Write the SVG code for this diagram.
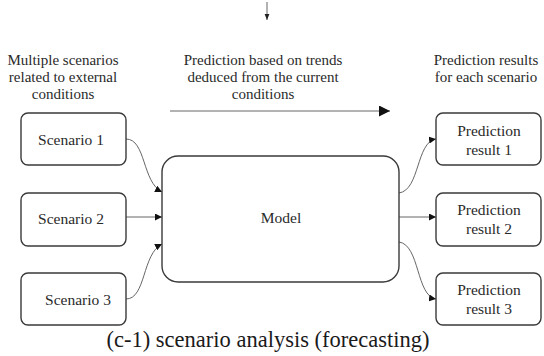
<svg xmlns="http://www.w3.org/2000/svg" width="544" height="356" viewBox="0 0 544 356">
<style>
.box{fill:#fff;stroke:#3a3a3a;stroke-width:1.4}
text{font-family:Liberation Serif,Times New Roman,serif;fill:#2a2a2a}
.t{font-size:15.5px;text-anchor:middle}
.lbl{font-size:15px;text-anchor:middle}
.c{fill:none;stroke:#666;stroke-width:1}
</style>
<defs>
<marker id="ah" viewBox="0 0 10 10" refX="10" refY="5" markerWidth="7" markerHeight="7" markerUnits="userSpaceOnUse" orient="auto">
<path d="M0,0 L10,5 L0,10 z" fill="#111"/>
</marker>
<marker id="big" viewBox="0 0 10 10" refX="10" refY="5" markerWidth="11" markerHeight="11" markerUnits="userSpaceOnUse" orient="auto">
<path d="M0,0 L10,5 L0,10 z" fill="#111"/>
</marker>
<marker id="sm" viewBox="0 0 10 10" refX="10" refY="5" markerWidth="6" markerHeight="6" markerUnits="userSpaceOnUse" orient="auto">
<path d="M0,1 L10,5 L0,9 z" fill="#222"/>
</marker>
</defs>
<rect width="544" height="356" fill="#fff"/>
<g id="connectors">
<path class="c" d="M267,2 L267,20" stroke="#444" stroke-width="1.2" marker-end="url(#sm)"/>
<path class="c" d="M170,111 L390,111" stroke="#777" stroke-width="1.6" marker-end="url(#big)"/>
<path class="c" d="M126,139 C146,139 142,182 162,192" marker-end="url(#ah)"/>
<path class="c" d="M126,217 L162,217" marker-end="url(#ah)"/>
<path class="c" d="M126,299 C146,299 142,254 162,244" marker-end="url(#ah)"/>
<path class="c" d="M399,193 C420,190 416,142 436,139" marker-end="url(#ah)"/>
<path class="c" d="M399,217 L436,217" marker-end="url(#ah)"/>
<path class="c" d="M399,242 C420,245 416,296 436,299" marker-end="url(#ah)"/>
</g>
<g id="labels">
<text class="lbl" x="63" y="65">Multiple scenarios</text>
<text class="lbl" x="63" y="82">related to external</text>
<text class="lbl" x="63" y="99">conditions</text>
<text class="lbl" x="263" y="65">Prediction based on trends</text>
<text class="lbl" x="263" y="82">deduced from the current</text>
<text class="lbl" x="263" y="99">conditions</text>
<text class="lbl" x="486" y="65">Prediction results</text>
<text class="lbl" x="486" y="82">for each scenario</text>
</g>
<g id="scenario1"><rect class="box" x="21" y="113" width="105" height="52" rx="7"/><text class="t" x="71" y="145">Scenario 1</text></g>
<g id="scenario2"><rect class="box" x="21" y="193" width="105" height="53" rx="7"/><text class="t" x="71" y="224">Scenario 2</text></g>
<g id="scenario3"><rect class="box" x="21" y="273" width="105" height="52" rx="7"/><text class="t" x="78" y="305">Scenario 3</text></g>
<g id="model"><rect class="box" x="162" y="156" width="237" height="126" rx="16"/><text class="t" x="281" y="223">Model</text></g>
<g id="result1"><rect class="box" x="436" y="113" width="105" height="52" rx="7"/><text class="t" x="489" y="136">Prediction</text><text class="t" x="489" y="155">result 1</text></g>
<g id="result2"><rect class="box" x="436" y="193" width="105" height="53" rx="7"/><text class="t" x="489" y="215">Prediction</text><text class="t" x="489" y="234">result 2</text></g>
<g id="result3"><rect class="box" x="436" y="273" width="105" height="52" rx="7"/><text class="t" x="489" y="295">Prediction</text><text class="t" x="489" y="314">result 3</text></g>
<text x="268" y="347" style="font-size:22.5px;text-anchor:middle;fill:#1a1a1a">(c-1) scenario analysis (forecasting)</text>
</svg>
